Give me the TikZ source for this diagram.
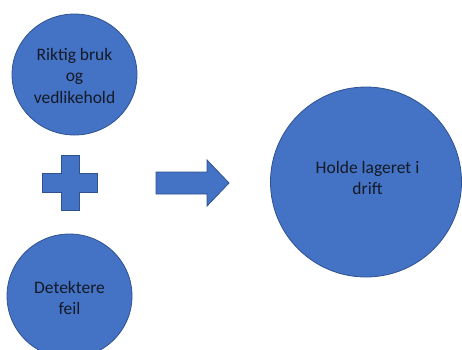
\documentclass[tikz,border=0pt]{standalone}
\usepackage{fontspec}
\setmainfont{Carlito}
\usetikzlibrary{shapes.geometric}
\definecolor{shapefill}{HTML}{4472C4}
\definecolor{shapeline}{HTML}{2F528F}
\definecolor{labeltext}{HTML}{141A26}
\tikzset{
  bubble/.style={ellipse, fill=shapefill, draw=shapeline, line width=0.8pt, inner sep=0pt},
  caption/.style={align=center, text=labeltext, inner sep=0pt,
    font=\fontsize{17.5}{21.5}\selectfont},
  solid shape/.style={fill=shapefill, draw=shapeline, line width=0.8pt}
}
\begin{document}
\begin{tikzpicture}[x=1pt,y=-1pt]
  \useasboundingbox (0,0) rectangle (462,349);
  \clip (0,0) rectangle (462,349);
  % circles
  \node[bubble, minimum width=125pt, minimum height=121pt] (care) at (74.5,74.5) {};
  \node[bubble, minimum width=125pt, minimum height=124pt] (detect) at (69.5,296) {};
  \node[bubble, minimum width=191pt, minimum height=190pt] (goal) at (366,182) {};
  % captions
  \node[caption] (careText) at ([yshift=-1pt]care.center) {Riktig bruk\\og\\vedlikehold};
  \node[caption] (detectText) at ([yshift=-2pt]detect.center) {Detektere\\feil};
  \node[caption] (goalText) at ([shift={(1.5pt,4pt)}]goal.center) {Holde lageret i\\drift};
  % plus sign
  \draw[solid shape] (61,155) -- (79,155) -- (79,173) -- (97,173) -- (97,192)
    -- (79,192) -- (79,210) -- (61,210) -- (61,192) -- (42,192) -- (42,173)
    -- (61,173) -- cycle;
  % block arrow
  \draw[solid shape] (156,172) -- (207,172) -- (207,160) -- (229,183)
    -- (207,206) -- (207,194) -- (156,194) -- cycle;
\end{tikzpicture}
\end{document}
